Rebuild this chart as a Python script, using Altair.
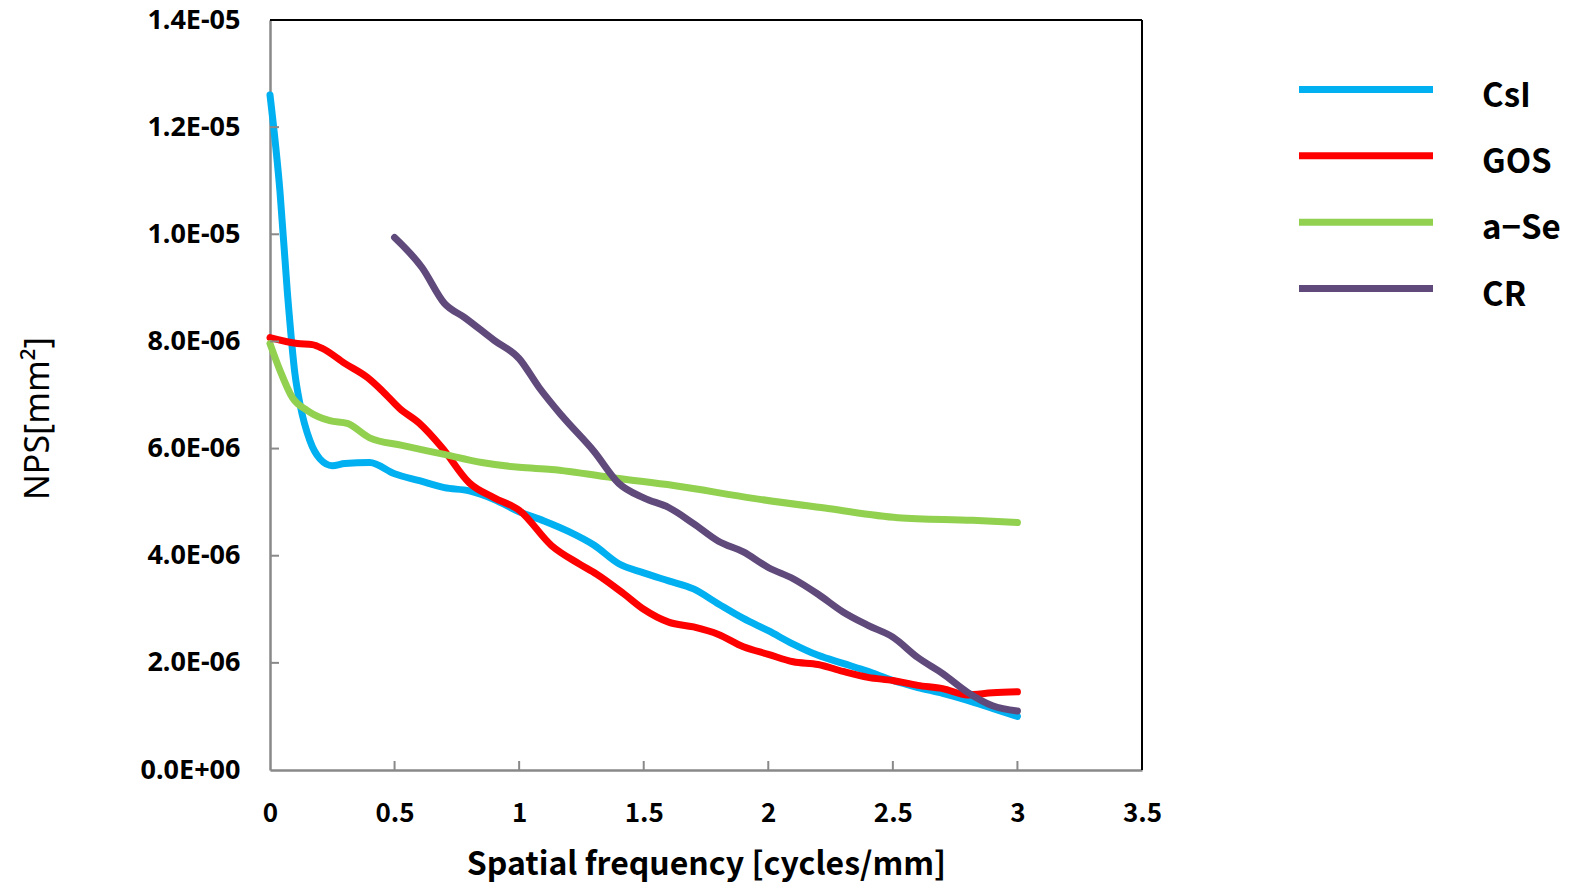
import altair as alt
import pandas as pd

# ---- data (NPS in units of 1e-6 mm^2) ----
csi_f = [0, 0.04, 0.07, 0.1, 0.12, 0.16, 0.2, 0.25, 0.3, 0.4, 0.5, 0.6, 0.7, 0.8, 0.9, 1.0,
         1.1, 1.2, 1.3, 1.4, 1.5, 1.6, 1.7, 1.8, 1.9, 2.0, 2.1, 2.2, 2.3, 2.4, 2.5, 2.6,
         2.7, 2.8, 2.9, 3.0]
csi_v = [12.6, 10.8, 8.9, 7.4, 6.84, 6.15, 5.81, 5.68, 5.72, 5.74, 5.53, 5.4, 5.27, 5.21, 5.05, 4.82,
         4.65, 4.45, 4.2, 3.85, 3.68, 3.53, 3.38, 3.1, 2.83, 2.6, 2.35, 2.14, 1.99, 1.84, 1.67, 1.54,
         1.43, 1.3, 1.15, 1.0]

gos_f = [0, 0.11, 0.17, 0.21, 0.3, 0.39, 0.45, 0.52, 0.6, 0.69, 0.8, 0.9, 1.0, 1.13, 1.24, 1.31,
         1.42, 1.5, 1.6, 1.7, 1.8, 1.9, 2.0, 2.1, 2.2, 2.3, 2.4, 2.5, 2.6, 2.7, 2.8, 2.9, 3.0]
gos_v = [8.07, 7.96, 7.94, 7.87, 7.59, 7.33, 7.08, 6.75, 6.47, 6.02, 5.36, 5.08, 4.85, 4.19, 3.85, 3.66,
         3.29, 3.0, 2.76, 2.67, 2.53, 2.3, 2.16, 2.02, 1.97, 1.84, 1.73, 1.67, 1.58, 1.52, 1.4, 1.44, 1.46]

ase_f = [0, 0.04, 0.09, 0.15, 0.24, 0.31, 0.4, 0.53, 0.69, 0.85, 1.0, 1.13, 1.4, 1.62, 1.94,
         2.24, 2.52, 2.82, 3.0]
ase_v = [7.96, 7.46, 6.95, 6.71, 6.52, 6.47, 6.2, 6.06, 5.9, 5.74, 5.65, 5.61, 5.44, 5.31, 5.07,
         4.88, 4.71, 4.66, 4.62]

cr_f = [0.5, 0.61, 0.7, 0.78, 0.9, 1.0, 1.08, 1.17, 1.3, 1.4, 1.5, 1.6, 1.7, 1.8, 1.9, 2.0,
        2.1, 2.2, 2.3, 2.4, 2.5, 2.6, 2.7, 2.8, 2.9, 3.0]
cr_v = [9.94, 9.38, 8.71, 8.45, 8.02, 7.68, 7.14, 6.62, 5.95, 5.35, 5.08, 4.9, 4.6, 4.27, 4.07, 3.78,
        3.57, 3.28, 2.95, 2.7, 2.48, 2.1, 1.8, 1.45, 1.2, 1.1]

series_names = ["CsI", "GOS", "a\u2212Se", "CR"]
series_colors = ["#00B0F0", "#FF0000", "#92D050", "#604A7B"]

x_ticks = [0, 0.5, 1, 1.5, 2, 2.5, 3, 3.5]
y_ticks = [0, 2, 4, 6, 8, 10, 12, 14]
y_tick_labels = ["0.0E+00", "2.0E-06", "4.0E-06", "6.0E-06", "8.0E-06", "1.0E-05", "1.2E-05", "1.4E-05"]

rows = []
for name, fs, vs in zip(series_names, [csi_f, gos_f, ase_f, cr_f], [csi_v, gos_v, ase_v, cr_v]):
    for i, (f, v) in enumerate(zip(fs, vs)):
        rows.append({"series": name, "f": f, "nps": v, "order": i})
df = pd.DataFrame(rows)
legend_df = pd.DataFrame({"series": series_names, "row": list(range(len(series_names)))})

W, H = 872, 750
label_js = "[" + ",".join("'%s'" % s for s in y_tick_labels) + "]"

x_scale = alt.Scale(domain=[0, 3.5], nice=False, zero=False)
y_scale = alt.Scale(domain=[0, 14], nice=False)
color_scale = alt.Scale(domain=series_names, range=series_colors)
row_scale = alt.Scale(domain=[0, 3], range=[69.5, 268.5])

x_axis = alt.Axis(values=x_ticks, format="~g", title="Spatial frequency [cycles/mm]",
                  grid=False, ticks=False, domainColor="#898989", domainWidth=2.5,
                  labelFlush=False,
                  labelFont="Liberation Sans Narrow, Noto Sans CJK JP", labelFontWeight="bold",
                  labelFontSize=26, labelPadding=30, labelColor="black",
                  titleFont="Liberation Sans Narrow, Noto Sans CJK JP", titleFontWeight="bold",
                  titleFontSize=32, titlePadding=23, titleColor="black")

lines = alt.Chart(df).mark_line(
    strokeWidth=7, strokeCap="round", strokeJoin="round", interpolate="monotone"
).encode(
    x=alt.X("f:Q", scale=x_scale, axis=x_axis),
    y=alt.Y("nps:Q", scale=y_scale,
            axis=alt.Axis(values=y_ticks, labelExpr=label_js + "[round(datum.value/2)]",
                          title="NPS[mm\u00b2]", grid=False, ticks=False,
                          domainColor="#898989", domainWidth=2.5,
                          labelFont="Noto Sans", labelFontWeight="bold", labelFontSize=27,
                          labelPadding=30, labelColor="black",
                          titleFont="Noto Sans", titleFontWeight="normal", titleFontSize=34,
                          titlePadding=85, titleY=398, titleColor="black")),
    color=alt.Color("series:N", scale=color_scale, legend=None),
    order="order:Q",
)

ytick_df = pd.DataFrame({"t": y_ticks[1:-1]})
xtick_df = pd.DataFrame({"t": x_ticks[1:-1]})

yticks = alt.Chart(ytick_df).mark_rule(color="#898989", strokeWidth=2).encode(
    y=alt.Y("t:Q", scale=y_scale, axis=None), x=alt.value(0), x2=alt.value(9))
xticks = alt.Chart(xtick_df).mark_rule(color="#898989", strokeWidth=2).encode(
    x=alt.X("t:Q", scale=x_scale, axis=x_axis), y=alt.value(H), y2=alt.value(H - 9))

# black frame on the top and right sides of the plot area
frame_top = alt.Chart(pd.DataFrame({"k": [0]})).mark_rule(color="black", strokeWidth=2).encode(
    x=alt.value(0), x2=alt.value(W), y=alt.value(0))
frame_right = alt.Chart(pd.DataFrame({"k": [0]})).mark_rule(color="black", strokeWidth=2).encode(
    x=alt.value(W), y=alt.value(0), y2=alt.value(H))

# legend (drawn as marks, to get the reference's spacing)
leg_lines = alt.Chart(legend_df).mark_rule(strokeWidth=7).encode(
    x=alt.value(1029), x2=alt.value(1163),
    y=alt.Y("row:Q", scale=row_scale, axis=None),
    color=alt.Color("series:N", scale=color_scale, legend=None))
leg_text = alt.Chart(legend_df).mark_text(
    align="left", baseline="middle", dy=7, font="Noto Sans CJK JP", fontWeight="bold",
    fontSize=33, color="black"
).encode(
    x=alt.value(1212),
    y=alt.Y("row:Q", scale=row_scale, axis=None),
    text="series:N")

chart = alt.layer(frame_top, frame_right, lines, yticks, xticks, leg_lines, leg_text).resolve_scale(
    y="independent"
).properties(
    width=W, height=H,
    autosize=alt.AutoSizeParams(type="none"),
    padding={"left": 262, "top": 12, "right": 425, "bottom": 114},
).configure_view(strokeWidth=0).configure(background="white")

chart.save("out.html", embed_options={"renderer": "svg", "actions": False})
